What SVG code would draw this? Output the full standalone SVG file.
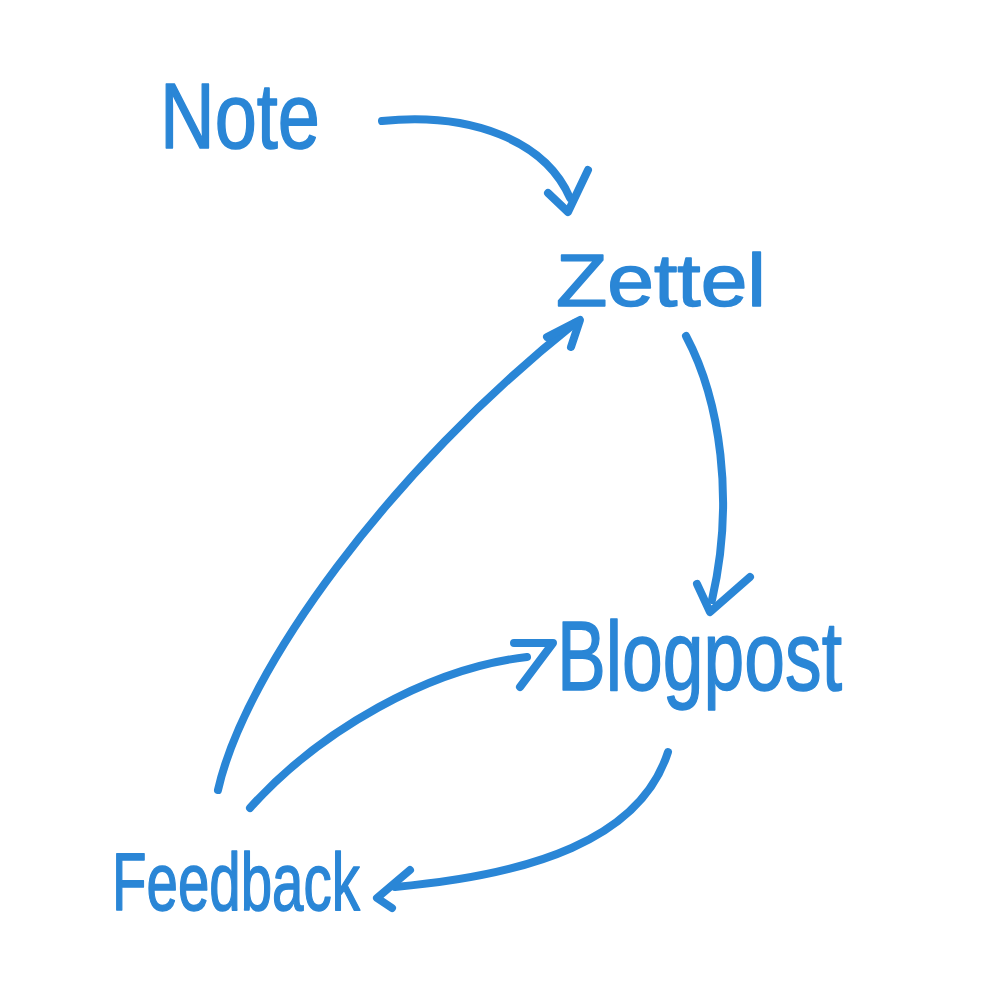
<svg xmlns="http://www.w3.org/2000/svg" width="1000" height="1000" viewBox="0 0 1000 1000">
<style>
.lbl{font-family:"Liberation Sans","DejaVu Sans",sans-serif;fill:#2a86d6;stroke:#2a86d6;stroke-width:1.5;stroke-linejoin:round;font-weight:normal}
.ln{fill:none;stroke:#2a86d6;stroke-width:8;stroke-linecap:round;stroke-linejoin:round}
</style>
<rect width="1000" height="1000" fill="#ffffff"/>
<g id="connectors">
<g id="note-zettel"><path class="ln" d="M382,121 C470,112 545,140 570,198"/><path class="ln" d="M548,193 L568,212 L588,170"/></g>
<g id="zettel-blogpost"><path class="ln" d="M686,336 C720,400 735,500 712,600"/><path class="ln" d="M697,584 L710,612 L750,577"/></g>
<g id="feedback-zettel"><path class="ln" d="M218,790 C245,670 390,470 575,323"/><path class="ln" d="M547,337 L580,320 L571,347"/></g>
<g id="feedback-blogpost"><path class="ln" d="M250,808 C320,730 430,668 527,657"/><path class="ln" d="M514,643 L553,643 L520,687"/></g>
<g id="blogpost-feedback"><path class="ln" d="M668,752 C640,840 530,875 395,887"/><path class="ln" d="M410,870 L377,898 L392,908"/></g>
</g>
<g id="node-note"><text class="lbl" x="160" y="148" font-size="92" textLength="160" lengthAdjust="spacingAndGlyphs">Note</text></g>
<g id="node-zettel"><text class="lbl" x="556" y="306" font-size="74" textLength="210" lengthAdjust="spacingAndGlyphs">Zettel</text></g>
<g id="node-blogpost"><text class="lbl" x="557" y="690" font-size="98" textLength="285" lengthAdjust="spacingAndGlyphs">Blogpost</text></g>
<g id="node-feedback"><text class="lbl" x="112" y="910" font-size="82" textLength="248" lengthAdjust="spacingAndGlyphs">Feedback</text></g>
</svg>
